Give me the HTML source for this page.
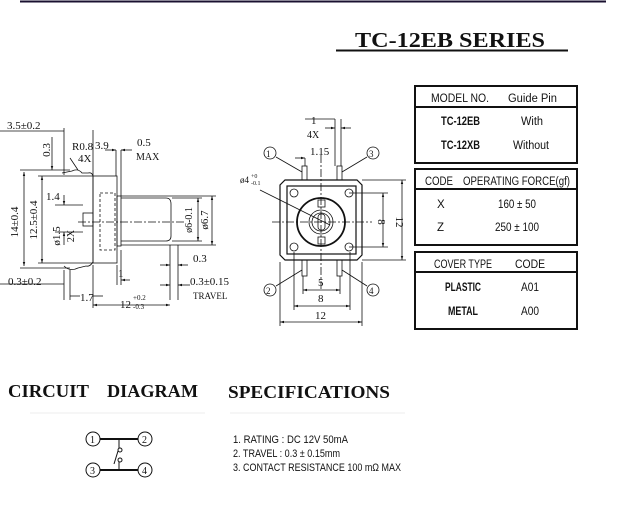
<!DOCTYPE html>
<html><head><meta charset="utf-8"><style>
html,body{margin:0;padding:0;background:#fff;}
svg{display:block}
text{font-family:"Liberation Serif",serif;fill:#111}
.s{font-family:"Liberation Sans",sans-serif}
</style></head><body>
<svg width="639" height="516" viewBox="0 0 639 516" xmlns="http://www.w3.org/2000/svg">
<defs><marker id="a" viewBox="0 0 10 10" refX="10" refY="5" markerWidth="5" markerHeight="5" orient="auto-start-reverse"><path d="M0,2 L10,5 L0,8z" fill="#111"/></marker></defs>
<line x1="20" y1="1.5" x2="606" y2="1.5" stroke="#1a1030" stroke-width="2"/>
<text x="355" y="47" font-size="21" font-weight="bold" textLength="190" lengthAdjust="spacingAndGlyphs">TC-12EB  SERIES</text>
<line x1="336" y1="50.5" x2="568" y2="50.5" stroke="#111" stroke-width="2"/>

<g stroke="#111" stroke-width="0.8" fill="none">
<path d="M62,173 L72,171 Q78,168 82,173 L88,173 Q92,172 93,176 L93,262 Q90,267 86,266 L78,268 Q70,272 64,266"/>
<rect x="93" y="176" width="24" height="87"/>
<rect x="100" y="193" width="15" height="57" stroke-dasharray="3,2"/>
<rect x="117" y="196" width="4" height="50"/>
<path d="M121,198 L166,198 Q171,198 171,204 L171,236 Q171,241 166,241 L121,241"/>
<rect x="83" y="213" width="10" height="13"/>
<line x1="78" y1="222" x2="185" y2="222" stroke-dasharray="8,2,2,2"/>
<line x1="0" y1="131" x2="64" y2="131"/><line x1="64" y1="128" x2="64" y2="175"/>
<line x1="93" y1="130" x2="93" y2="176"/>
<line x1="20" y1="170" x2="70" y2="170"/><line x1="20" y1="268" x2="70" y2="268"/>
<line x1="24" y1="172" x2="24" y2="266" marker-start="url(#a)" marker-end="url(#a)"/>
<line x1="42" y1="176" x2="42" y2="263" marker-start="url(#a)" marker-end="url(#a)"/>
<line x1="38" y1="176" x2="93" y2="176"/><line x1="38" y1="263" x2="93" y2="263"/>
<line x1="55" y1="205" x2="83" y2="205"/><line x1="55" y1="232" x2="83" y2="232"/>
<line x1="64" y1="195" x2="64" y2="205" marker-end="url(#a)"/>
<line x1="64" y1="245" x2="64" y2="232" marker-end="url(#a)"/>
<line x1="52" y1="137" x2="52" y2="170" marker-end="url(#a)"/>
<line x1="116" y1="150" x2="116" y2="176"/><line x1="121" y1="150" x2="121" y2="196"/>
<line x1="105" y1="150" x2="116" y2="150" marker-end="url(#a)"/>
<line x1="132" y1="150" x2="121" y2="150" marker-end="url(#a)"/>
<line x1="170" y1="245" x2="170" y2="300"/><line x1="178" y1="245" x2="178" y2="300"/>
<line x1="160" y1="265" x2="170" y2="265" marker-end="url(#a)"/>
<line x1="188" y1="265" x2="178" y2="265" marker-end="url(#a)"/>
<line x1="160" y1="285" x2="170" y2="285" marker-end="url(#a)"/>
<line x1="190" y1="285" x2="178" y2="285" marker-end="url(#a)"/>
<line x1="0" y1="284" x2="64" y2="284"/><line x1="64" y1="270" x2="64" y2="300"/><line x1="70" y1="270" x2="70" y2="300"/>
<line x1="93" y1="265" x2="93" y2="308"/><line x1="117" y1="265" x2="117" y2="285"/><line x1="121" y1="250" x2="121" y2="285"/>
<line x1="70" y1="296" x2="80" y2="296"/><line x1="103" y1="296" x2="93" y2="296"/>
<line x1="93" y1="305" x2="170" y2="305" marker-start="url(#a)" marker-end="url(#a)"/>
<line x1="130" y1="280" x2="121" y2="280" marker-end="url(#a)"/>
<line x1="198" y1="198" x2="198" y2="241" marker-start="url(#a)" marker-end="url(#a)"/>
<line x1="212" y1="196" x2="212" y2="245" marker-start="url(#a)" marker-end="url(#a)"/>
<line x1="172" y1="198" x2="202" y2="198"/><line x1="172" y1="241" x2="202" y2="241"/>
<line x1="121" y1="196" x2="216" y2="196"/><line x1="121" y1="245" x2="216" y2="245"/>
<line x1="70" y1="158" x2="78" y2="170"/>
</g>
<g font-size="11">
<text x="7" y="129">3.5±0.2</text>
<text x="72" y="150">R0.8</text><text x="78" y="162">4X</text>
<text x="95" y="149">3.9</text><text x="137" y="146">0.5</text><text x="136" y="160" font-size="10">MAX</text>
<text x="46" y="200">1.4</text>
<text x="193" y="262">0.3</text>
<text x="8" y="285">0.3±0.2</text>
<text x="190" y="285">0.3±0.15</text>
<text x="193" y="299" font-size="9">TRAVEL</text>
<text x="80" y="301">1.7</text>
<text x="118" y="277">1</text>
<text x="120" y="308">12</text><text x="133" y="300" font-size="7">+0.2</text><text x="133" y="309" font-size="7">-0.3</text>
<text transform="translate(18,222) rotate(-90)" text-anchor="middle">14±0.4</text>
<text transform="translate(37,220) rotate(-90)" text-anchor="middle">12.5±0.4</text>
<text transform="translate(50,150) rotate(-90)" text-anchor="middle">0.3</text>
<text transform="translate(60,236) rotate(-90)" text-anchor="middle">ø1.5</text>
<text transform="translate(74,236) rotate(-90)" text-anchor="middle" font-size="10">2X</text>
<text transform="translate(192,220) rotate(-90)" text-anchor="middle" font-size="10">ø6-0.1</text>
<text transform="translate(208,220) rotate(-90)" text-anchor="middle">ø6.7</text>
</g>

<g stroke="#111" stroke-width="0.8" fill="none">
<path d="M285,180 L357,180 L362,185 L362,255 L357,260 L285,260 L280,255 L280,185Z" stroke-width="1.2"/>
<rect x="287" y="186" width="69" height="68" stroke-width="1.2"/>
<circle cx="321" cy="222" r="24" stroke-width="1.8"/>
<circle cx="321" cy="222" r="12"/><circle cx="321" cy="222" r="9"/>
<rect x="318" y="214" width="7" height="16" rx="3"/>
<rect x="318" y="200" width="7" height="7"/><rect x="318" y="237" width="7" height="7"/>
<circle cx="294" cy="193" r="4"/><circle cx="349" cy="193" r="4"/><circle cx="294" cy="247" r="4"/><circle cx="349" cy="247" r="4"/>
<rect x="302" y="166" width="5" height="14"/><rect x="337" y="166" width="5" height="14"/>
<rect x="302" y="260" width="5" height="16"/><rect x="337" y="260" width="5" height="16"/>
<line x1="321" y1="155" x2="321" y2="290" stroke-dasharray="8,2,2,2"/>
<line x1="272" y1="222" x2="372" y2="222" stroke-dasharray="8,2,2,2"/>
<line x1="305" y1="119" x2="335" y2="119"/><line x1="335" y1="119" x2="335" y2="166"/><line x1="341" y1="119" x2="341" y2="166"/>
<line x1="325" y1="128" x2="335" y2="128" marker-end="url(#a)"/><line x1="351" y1="128" x2="341" y2="128" marker-end="url(#a)"/>
<line x1="305" y1="158" x2="305" y2="166"/>
<line x1="295" y1="158" x2="305" y2="158" marker-end="url(#a)"/>
<line x1="276" y1="157" x2="302" y2="172"/><line x1="367" y1="157" x2="342" y2="172"/>
<line x1="276" y1="286" x2="302" y2="270"/><line x1="367" y1="286" x2="342" y2="270"/>
<line x1="260" y1="190" x2="330" y2="225"/>
<line x1="349" y1="193" x2="388" y2="193"/><line x1="349" y1="247" x2="388" y2="247"/>
<line x1="383" y1="193" x2="383" y2="247" marker-start="url(#a)" marker-end="url(#a)"/>
<line x1="362" y1="180" x2="406" y2="180"/><line x1="362" y1="260" x2="406" y2="260"/>
<line x1="402" y1="180" x2="402" y2="260" marker-start="url(#a)" marker-end="url(#a)"/>
<line x1="303" y1="276" x2="303" y2="294"/><line x1="340" y1="276" x2="340" y2="294"/>
<line x1="303" y1="290" x2="340" y2="290" marker-start="url(#a)" marker-end="url(#a)"/>
<line x1="294" y1="252" x2="294" y2="310"/><line x1="350" y1="252" x2="350" y2="310"/>
<line x1="294" y1="306" x2="350" y2="306" marker-start="url(#a)" marker-end="url(#a)"/>
<line x1="280" y1="262" x2="280" y2="326"/><line x1="362" y1="262" x2="362" y2="326"/>
<line x1="280" y1="322" x2="362" y2="322" marker-start="url(#a)" marker-end="url(#a)"/>
<circle cx="270" cy="153" r="6"/><circle cx="373" cy="153" r="6"/><circle cx="270" cy="290" r="6"/><circle cx="373" cy="290" r="6"/>
</g>
<g font-size="11">
<text x="266" y="157" font-size="9">1</text><text x="369" y="157" font-size="9">3</text>
<text x="266" y="294" font-size="9">2</text><text x="369" y="294" font-size="9">4</text>
<text x="311" y="124">1</text><text x="307" y="138" font-size="10">4X</text><text x="310" y="155">1.15</text>
<text x="240" y="183" font-size="9">ø4</text><text x="251" y="178" font-size="6">+0</text><text x="251" y="185" font-size="6">-0.1</text>
<text transform="translate(378,222) rotate(90)" text-anchor="middle">8</text>
<text transform="translate(396,222) rotate(90)" text-anchor="middle">12</text>
<text x="318" y="286">5</text><text x="318" y="302">8</text><text x="315" y="319">12</text>
</g>

<g stroke="#111" stroke-width="2" fill="none">
<rect x="415" y="86" width="162" height="77"/><line x1="415" y1="107" x2="577" y2="107"/>
<rect x="415" y="169" width="162" height="76"/><line x1="415" y1="189" x2="577" y2="189"/>
<rect x="415" y="252" width="162" height="77"/><line x1="415" y1="272" x2="577" y2="272"/>
</g>
<g font-size="11.5">
<text x="431" y="102" class="s" textLength="58" lengthAdjust="spacingAndGlyphs">MODEL NO.</text><text x="508" y="102" class="s" textLength="49" lengthAdjust="spacingAndGlyphs">Guide Pin</text>
<text x="441" y="125" class="s" font-weight="bold" textLength="39" lengthAdjust="spacingAndGlyphs">TC-12EB</text><text x="521" y="125" class="s" textLength="22" lengthAdjust="spacingAndGlyphs">With</text>
<text x="441" y="149" class="s" font-weight="bold" textLength="39" lengthAdjust="spacingAndGlyphs">TC-12XB</text><text x="513" y="149" class="s" textLength="36" lengthAdjust="spacingAndGlyphs">Without</text>
<text x="425" y="185" class="s" textLength="28" lengthAdjust="spacingAndGlyphs">CODE</text><text x="463" y="185" class="s" textLength="107" lengthAdjust="spacingAndGlyphs">OPERATING FORCE(gf)</text>
<text x="437" y="208" class="s">X</text><text x="498" y="208" class="s" textLength="38" lengthAdjust="spacingAndGlyphs">160 ± 50</text>
<text x="437" y="231" class="s">Z</text><text x="495" y="231" class="s" textLength="44" lengthAdjust="spacingAndGlyphs">250 ± 100</text>
<text x="434" y="268" class="s" textLength="58" lengthAdjust="spacingAndGlyphs">COVER TYPE</text><text x="515" y="268" class="s" textLength="30" lengthAdjust="spacingAndGlyphs">CODE</text>
<text x="445" y="291" class="s" font-weight="bold" textLength="36" lengthAdjust="spacingAndGlyphs">PLASTIC</text><text x="521" y="291" class="s" textLength="18" lengthAdjust="spacingAndGlyphs">A01</text>
<text x="448" y="315" class="s" font-weight="bold" textLength="30" lengthAdjust="spacingAndGlyphs">METAL</text><text x="521" y="315" class="s" textLength="18" lengthAdjust="spacingAndGlyphs">A00</text>
</g>

<text x="8" y="397" font-size="18" font-weight="bold" textLength="81" lengthAdjust="spacingAndGlyphs">CIRCUIT</text>
<text x="107" y="397" font-size="18" font-weight="bold" textLength="91" lengthAdjust="spacingAndGlyphs">DIAGRAM</text>
<text x="228" y="398" font-size="18" font-weight="bold" textLength="162" lengthAdjust="spacingAndGlyphs">SPECIFICATIONS</text>
<line x1="30" y1="413" x2="205" y2="413" stroke="#eee"/><line x1="230" y1="413" x2="405" y2="413" stroke="#eee"/>
<g stroke="#111" fill="none">
<circle cx="93" cy="439" r="7"/><circle cx="145" cy="439" r="7"/><circle cx="93" cy="470" r="7"/><circle cx="145" cy="470" r="7"/>
<line x1="100" y1="439" x2="138" y2="439" stroke-width="2"/><line x1="100" y1="470" x2="138" y2="470" stroke-width="2"/>
<line x1="119" y1="439" x2="119" y2="448"/><line x1="119" y1="470" x2="119" y2="462"/>
<circle cx="120" cy="450" r="2"/><circle cx="120" cy="460" r="2"/>
<line x1="118" y1="451" x2="114" y2="464"/>
</g>
<g font-size="10">
<text x="90" y="443">1</text><text x="142" y="443">2</text><text x="90" y="474">3</text><text x="142" y="474">4</text>
</g>
<g font-size="11">
<text x="233" y="443" class="s" textLength="115" lengthAdjust="spacingAndGlyphs">1. RATING : DC 12V  50mA</text>
<text x="233" y="457" class="s" textLength="107" lengthAdjust="spacingAndGlyphs">2. TRAVEL : 0.3 ± 0.15mm</text>
<text x="233" y="471" class="s" textLength="168" lengthAdjust="spacingAndGlyphs">3. CONTACT RESISTANCE 100 mΩ MAX</text>
</g>
</svg>
</body></html>
